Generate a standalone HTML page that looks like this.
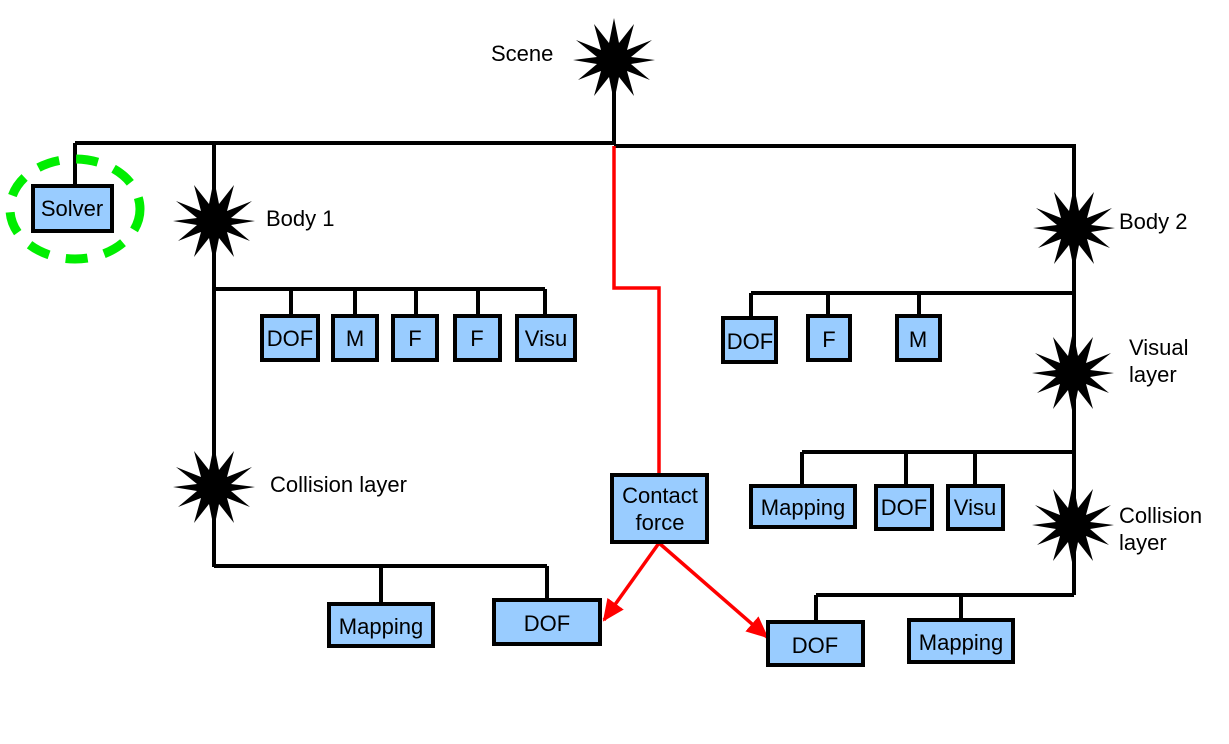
<!DOCTYPE html>
<html><head><style>
html,body{margin:0;padding:0;background:#fff;}
svg{display:block;}
text{font-family:"Liberation Sans",sans-serif;font-size:22px;fill:#000;}
.b{fill:#99ccff;stroke:#000;stroke-width:4;}
.l{stroke:#000;stroke-width:4;fill:none;}
.r{stroke:#ff0000;stroke-width:3.5;fill:none;}
</style></head><body>
<svg width="1229" height="744" viewBox="0 0 1229 744" xmlns="http://www.w3.org/2000/svg">
<defs>
<polygon id="star" points="0,-42 5,-17 20,-36 13,-10 38,-20 17,-3 41,0 17,4 36,20 13,11 20,36 5,17 0,42 -5,17 -20,36 -13,11 -36,20 -17,4 -41,0 -17,-3 -38,-20 -13,-10 -20,-36 -5,-17" fill="#000"/>
<marker id="ah" markerWidth="22" markerHeight="22" refX="20" refY="10" orient="auto" markerUnits="userSpaceOnUse" viewBox="0 0 22 20"><path d="M0,0 L22,10 L0,20 z" fill="#f00"/></marker>
</defs>
<path class="l" d="M614,85 V145 M75,143 H614 M614,146 H1076 M75,143 V186 M214,143 V567 M214,289 H545 M291,289 V316 M355,289 V316 M416,289 V316 M478,289 V316 M545,289 V316 M214,566 H547 M381,566 V604 M547,566 V600 M1074,146 V595 M751,293 H1074 M751,293 V318 M828,293 V316 M919,293 V316"/>
<path class="l" d="M802,452 V486 M906,452 V486 M975,452 V486 M802,452 H1074 M816,595 H1074 M816,595 V622 M961,595 V620"/>
<path class="r" d="M614,146 V288 H659 V475"/>
<path class="r" d="M659,543 L604,620" marker-end="url(#ah)"/>
<path class="r" d="M659,543 L767,637" marker-end="url(#ah)"/>
<use href="#star" x="614" y="60"/>
<use href="#star" x="214" y="221"/>
<use href="#star" x="1074" y="228"/>
<use href="#star" x="1073" y="373"/>
<use href="#star" x="214" y="487"/>
<use href="#star" x="1073" y="525"/>
<text x="491" y="61">Scene</text>
<text x="266" y="226">Body 1</text>
<text x="1119" y="229">Body 2</text>
<text x="1129" y="355">Visual</text>
<text x="1129" y="382">layer</text>
<text x="270" y="492">Collision layer</text>
<text x="1119" y="523">Collision</text>
<text x="1119" y="550">layer</text>
<ellipse cx="75" cy="209" rx="65" ry="50" fill="none" stroke="#00ee00" stroke-width="9" stroke-dasharray="22,17"/>
<rect class="b" x="33" y="186" width="79" height="45"/><text x="72" y="216" text-anchor="middle">Solver</text>
<rect class="b" x="262" y="316" width="56" height="44"/><text x="290" y="346" text-anchor="middle">DOF</text>
<rect class="b" x="333" y="316" width="44" height="44"/><text x="355" y="346" text-anchor="middle">M</text>
<rect class="b" x="393" y="316" width="44" height="44"/><text x="415" y="346" text-anchor="middle">F</text>
<rect class="b" x="455" y="316" width="45" height="44"/><text x="477" y="346" text-anchor="middle">F</text>
<rect class="b" x="517" y="316" width="58" height="44"/><text x="546" y="346" text-anchor="middle">Visu</text>
<rect class="b" x="723" y="318" width="53" height="44"/><text x="750" y="349" text-anchor="middle">DOF</text>
<rect class="b" x="808" y="316" width="42" height="44"/><text x="829" y="347" text-anchor="middle">F</text>
<rect class="b" x="897" y="316" width="43" height="44"/><text x="918" y="347" text-anchor="middle">M</text>
<rect class="b" x="751" y="486" width="104" height="41"/><text x="803" y="515" text-anchor="middle">Mapping</text>
<rect class="b" x="876" y="486" width="56" height="43"/><text x="904" y="515" text-anchor="middle">DOF</text>
<rect class="b" x="948" y="486" width="55" height="43"/><text x="975" y="515" text-anchor="middle">Visu</text>
<rect class="b" x="612" y="475" width="95" height="67"/><text x="660" y="503" text-anchor="middle">Contact</text><text x="660" y="530" text-anchor="middle">force</text>
<rect class="b" x="329" y="604" width="104" height="42"/><text x="381" y="634" text-anchor="middle">Mapping</text>
<rect class="b" x="494" y="600" width="106" height="44"/><text x="547" y="631" text-anchor="middle">DOF</text>
<rect class="b" x="768" y="622" width="95" height="43"/><text x="815" y="653" text-anchor="middle">DOF</text>
<rect class="b" x="909" y="620" width="104" height="42"/><text x="961" y="650" text-anchor="middle">Mapping</text>
</svg>
</body></html>
